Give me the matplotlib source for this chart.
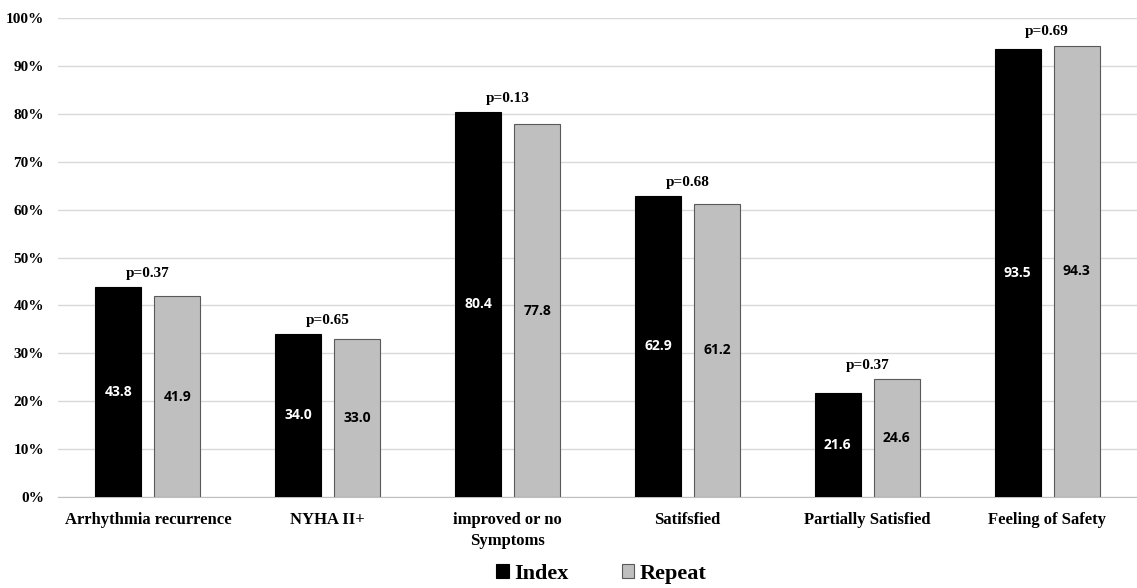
import numpy as np
import matplotlib
matplotlib.use('Agg')
import matplotlib.pyplot as plt
from matplotlib.ticker import PercentFormatter

categories = ['Arrhythmia recurrence', 'NYHA II+', 'improved or no\nSymptoms',
              'Satifsfied', 'Partially Satisfied', 'Feeling of Safety']
index_vals = [43.8, 34.0, 80.4, 62.9, 21.6, 93.5]
repeat_vals = [41.9, 33.0, 77.8, 61.2, 24.6, 94.3]
p_values = ['p=0.37', 'p=0.65', 'p=0.13', 'p=0.68', 'p=0.37', 'p=0.69']

serif = 'Liberation Serif'
sans = 'Open Sans'

fig = plt.figure(figsize=(11.37, 5.88), dpi=100)
ax = fig.add_axes([0.051, 0.155, 0.949, 0.814])

x = np.arange(len(categories))
w = 0.256
off = 0.164
b1 = ax.bar(x - off, index_vals, w, color='black', edgecolor='black', linewidth=0.8,
            label='Index', zorder=3)
b2 = ax.bar(x + off, repeat_vals, w, color='#bfbfbf', edgecolor='#595959', linewidth=0.8,
            label='Repeat', zorder=3)

for xi, v in zip(x - off, index_vals):
    ax.text(xi, v / 2, f'{v:.1f}', ha='center', va='center', color='white',
            fontsize=10, fontweight='bold', family=sans, zorder=4)
for xi, v in zip(x + off, repeat_vals):
    ax.text(xi, v / 2, f'{v:.1f}', ha='center', va='center', color='black',
            fontsize=10, fontweight='bold', family=sans, zorder=4)

# p values above each group
for xi, a, b, p in zip(x, index_vals, repeat_vals, p_values):
    ax.text(xi, max(a, b) + 1.5, p, ha='center', va='bottom', fontsize=11,
            fontweight='bold', family=serif)

ax.set_xlim(-0.5, len(categories) - 0.5)
ax.set_ylim(0, 100)
ax.set_yticks(np.arange(0, 101, 10))
ax.yaxis.set_major_formatter(PercentFormatter(decimals=0))
ax.set_xticks(x)
ax.set_xticklabels(categories, fontsize=12, fontweight='bold', family=serif,
                   linespacing=1.4)
for lab in ax.get_yticklabels():
    lab.set_fontsize(11); lab.set_fontweight('bold'); lab.set_family(serif)
ax.tick_params(axis='x', length=0, pad=11)
ax.tick_params(axis='y', length=0, pad=10)
ax.grid(axis='y', color='#d9d9d9', linewidth=1, zorder=0)
for s in ['top', 'right', 'left']:
    ax.spines[s].set_visible(False)
ax.spines['bottom'].set_color('#bfbfbf')

fig.legend(handles=[b1, b2], loc='center', ncol=2, frameon=False,
           bbox_to_anchor=(0.529, 0.024), handlelength=0.55, handleheight=0.55,
           handletextpad=0.25, columnspacing=2.4,
           prop={'family': serif, 'weight': 'bold', 'size': 16})

fig.savefig('out.png', dpi=100)
